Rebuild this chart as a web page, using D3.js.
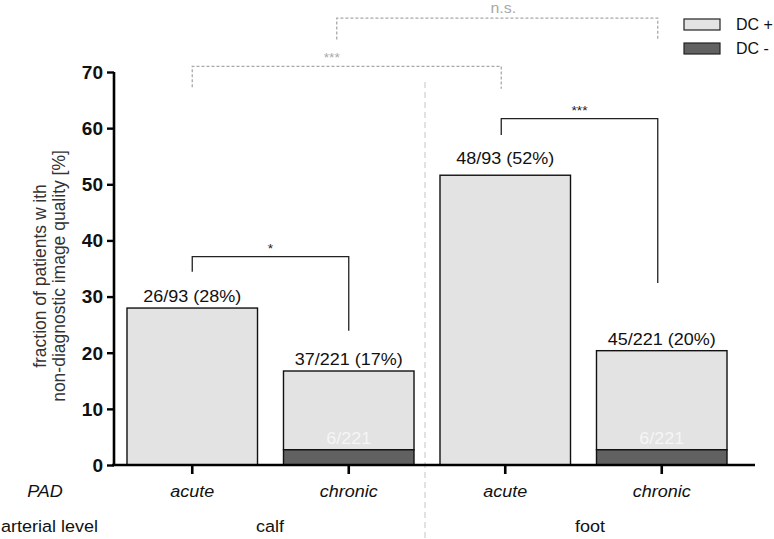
<!DOCTYPE html>
<html>
<head>
<meta charset="utf-8">
<script src="https://cdn.jsdelivr.net/npm/d3@7"></script>
<style>
  body { margin: 0; background: #fff; }
  svg { display: block; font-family: "Liberation Sans", Arial, sans-serif; }
</style>
</head>
<body>
<div class="d3"></div>
<script>
'use strict';

// data
const levels = ['calf', 'calf', 'foot', 'foot'];
const padTypes = ['acute', 'chronic', 'acute', 'chronic'];
const positives = [26, 37, 48, 45];          // patients with non-diagnostic quality
const totals = [93, 221, 93, 221];
const dcMinus = [0, 6, 0, 6];                // of which DC -
const yTicks = [0, 10, 20, 30, 40, 50, 60, 70];

// significance brackets (values in % units)
const sigLabels = ['*', '***', '***', 'n.s.'];
const sigFrom = [0, 2, 0, 1];
const sigTo = [1, 3, 2, 3];
const sigTop = [37.1, 61.7, 71.0, 79.6];
const sigLegA = [34.4, 58.8, 67.3, 75.8];
const sigLegB = [23.9, 32.4, 67.0, 75.8];
const sigGray = [false, false, true, true];

const colors = {
  'DC +': '#e3e3e3',
  'DC -': '#616161',
  'Ink': '#111',
  'Gray': '#a8a8a8'
};

const W = 774, H = 539;
const STRETCH = 1.06;   // the figure's text is slightly wide

const svg = d3.select('.d3').append('svg')
  .attr('width', W)
  .attr('height', H);

const keys = levels.map((l, i) => l + '-' + padTypes[i]);

const x = d3.scaleBand()
  .domain(keys)
  .range([114, 740])
  .paddingInner(0.166)
  .paddingOuter(0.083);

const y = d3.scaleLinear()
  .domain([0, 70])
  .range([465, 72]);

const cx = (i) => x(keys[i]) + x.bandwidth() / 2;

function label(sel, str, px, py, opts) {
  opts = opts || {};
  const sx = opts.sx === undefined ? STRETCH : opts.sx;
  return sel.append('text')
    .attr('transform', `translate(${px},${py}) scale(${sx},1)`)
    .attr('text-anchor', opts.anchor || 'middle')
    .attr('font-size', opts.size || 17)
    .attr('font-style', opts.italic ? 'italic' : null)
    .attr('font-weight', opts.bold ? 'bold' : null)
    .attr('fill', opts.fill || colors['Ink'])
    .text(str);
}

// separator between calf and foot
svg.append('line')
  .attr('x1', 425).attr('x2', 425)
  .attr('y1', 82).attr('y2', H)
  .attr('stroke', '#cfcfcf')
  .attr('stroke-width', 1.2)
  .attr('stroke-dasharray', '6,4');

// bars: DC - at bottom, DC + on top
const pct = positives.map((p, i) => p / totals[i] * 100);
const pctMinus = dcMinus.map((d, i) => d / totals[i] * 100);

const bars = svg.append('g');
bars.selectAll('.bar-plus')
  .data(keys)
  .enter()
  .append('rect')
  .attr('class', 'bar-plus')
  .attr('x', (d) => x(d))
  .attr('y', (d, i) => y(pct[i]))
  .attr('width', x.bandwidth())
  .attr('height', (d, i) => y(pctMinus[i]) - y(pct[i]))
  .attr('fill', colors['DC +'])
  .attr('stroke', colors['Ink'])
  .attr('stroke-width', 1.4);

bars.selectAll('.bar-minus')
  .data(keys.filter((d, i) => dcMinus[i] > 0))
  .enter()
  .append('rect')
  .attr('class', 'bar-minus')
  .attr('x', (d) => x(d))
  .attr('y', (d) => y(pctMinus[keys.indexOf(d)]))
  .attr('width', x.bandwidth())
  .attr('height', (d) => y(0) - y(pctMinus[keys.indexOf(d)]))
  .attr('fill', colors['DC -'])
  .attr('stroke', colors['Ink'])
  .attr('stroke-width', 1.4);

// value labels
const labelLift = [6, 6, 11, 6];
keys.forEach((k, i) => {
  label(svg, `${positives[i]}/${totals[i]} (${Math.round(pct[i])}%)`,
        cx(i), y(pct[i]) - labelLift[i]);
  if (dcMinus[i] > 0) {
    label(svg, `${dcMinus[i]}/${totals[i]}`, cx(i), y(pctMinus[i]) - 6,
          { fill: '#f5f5f5' });
  }
});

// axes
const yAxis = svg.append('g')
  .attr('transform', 'translate(114,0)')
  .call(d3.axisLeft(y).tickValues(yTicks).tickSize(7).tickPadding(4).tickFormat(d3.format('d')));
yAxis.select('.domain').attr('stroke-width', 2.6).attr('d', `M0,${y(70)}V${y(0)}`);
yAxis.selectAll('.tick line').attr('stroke-width', 2.4);
yAxis.selectAll('.tick text')
  .attr('font-size', 18)
  .attr('font-weight', 'bold')
  .attr('font-family', '"Liberation Sans", Arial, sans-serif')
  .attr('fill', colors['Ink'])
  .attr('dy', '0.35em')
  .attr('transform', `translate(-11,0) scale(${STRETCH},1) translate(11,0)`);

const xAxis = svg.append('g')
  .attr('transform', `translate(0,${y(0)})`)
  .call(d3.axisBottom(x).tickSize(9).tickFormat(''));
xAxis.select('.domain').attr('stroke-width', 2.6).attr('d', 'M112,0H755');
xAxis.selectAll('.tick line').attr('stroke-width', 2.6);

// y title
const yTitle = svg.append('text')
  .attr('transform', 'translate(46,276) rotate(-90) scale(1,1.1)')
  .attr('text-anchor', 'middle')
  .attr('font-size', 17.5)
  .attr('fill', '#333');
yTitle.append('tspan').attr('x', 0).attr('y', 0).text('fraction of patients w ith');
yTitle.append('tspan').attr('x', 0).attr('y', 17).text('non-diagnostic image quality [%]');

// category rows
label(svg, 'PAD', 45, 497, { italic: true });
padTypes.forEach((p, i) => label(svg, p, cx(i), 497, { italic: true }));
label(svg, 'arterial  level', 1, 532, { anchor: 'start' });
label(svg, 'calf', 270, 532);
label(svg, 'foot', 590, 532);

// significance brackets
const legOffset = [[0, 0], [-4, -4], [0, -4], [-12, -4]];
const textShift = [0, 0, -15, 6];
sigLabels.forEach((s, i) => {
  const x1 = cx(sigFrom[i]) + legOffset[i][0];
  const x2 = cx(sigTo[i]) + legOffset[i][1];
  const gray = sigGray[i];
  const path = d3.path();
  path.moveTo(x1, y(sigLegA[i]));
  path.lineTo(x1, y(sigTop[i]));
  path.lineTo(x2, y(sigTop[i]));
  path.lineTo(x2, y(sigLegB[i]));
  svg.append('path')
    .attr('d', path.toString())
    .attr('fill', 'none')
    .attr('stroke', gray ? colors['Gray'] : '#222')
    .attr('stroke-width', 1.3)
    .attr('stroke-dasharray', gray ? '3,2' : null);
  const isNs = s === 'n.s.';
  label(svg, s, (x1 + x2) / 2 + textShift[i], y(sigTop[i]) - (isNs ? 5 : 4),
        { size: isNs ? 15 : 13, fill: gray ? colors['Gray'] : '#222' });
});

// legend
const legendKeys = ['DC +', 'DC -'];
const legend = svg.append('g');
legendKeys.forEach((k, i) => {
  legend.append('rect')
    .attr('x', 684).attr('y', 19 + i * 24)
    .attr('width', 36).attr('height', 11)
    .attr('fill', colors[k])
    .attr('stroke', '#222')
    .attr('stroke-width', 1.2);
  label(legend, k, 736, 30 + i * 24, { anchor: 'start', size: 16, sx: 1 });
});
</script>
</body>
</html>
